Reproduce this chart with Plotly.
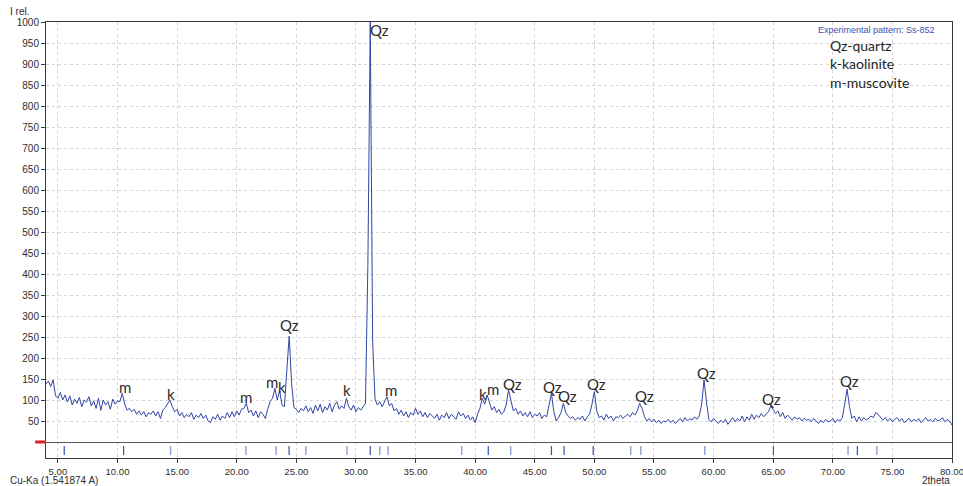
import plotly.graph_objects as go

# Powder XRD pattern, sample Ss-852 (Cu-Ka), sampled every 0.2 deg 2theta from 4.0
START_2THETA = 4.0
STEP_2THETA = 0.2
intensity = [
    138, 145, 132, 148, 110,   # 4
    104, 118, 100, 112, 95,    # 5
    110, 88, 102, 92, 106,     # 6
    84, 100, 95, 108, 86,      # 7
    98, 80, 104, 75, 100,      # 8
    88, 96, 78, 102, 90,       # 9
    98, 96, 116, 90, 76,       # 10
    80, 72, 78, 66, 74,        # 11
    64, 72, 60, 70, 66,        # 12
    74, 62, 72, 56, 76,        # 13
    82, 90, 100, 84, 72,       # 14
    78, 62, 70, 58, 66,        # 15
    60, 70, 54, 64, 58,        # 16
    68, 56, 64, 50, 46,        # 17
    60, 54, 66, 52, 62,        # 18
    56, 70, 58, 72, 60,        # 19
    74, 64, 78, 80, 92,        # 20
    70, 76, 62, 74, 58,        # 21
    72, 66, 56, 78, 96,        # 22
    104, 128, 100, 122, 88,    # 23
    84, 170, 252, 140, 82,     # 24
    78, 70, 80, 74, 86,        # 25
    72, 82, 68, 88, 74,        # 26
    90, 70, 84, 76, 92,        # 27
    72, 88, 96, 78, 86,        # 28
    80, 104, 84, 76, 88,       # 29
    72, 82, 76, 84, 92,        # 30
    420, 1000, 240, 102, 88,   # 31
    96, 84, 98, 108, 86,       # 32
    92, 74, 80, 66, 76,        # 33
    62, 72, 58, 70, 64,        # 34
    80, 66, 74, 60, 70,        # 35
    58, 68, 62, 56, 66,        # 36
    52, 64, 58, 70, 56,        # 37
    66, 60, 54, 72, 62,        # 38
    68, 56, 64, 52, 60,        # 39
    46, 66, 80, 104, 90,       # 40
    112, 92, 76, 84, 70,       # 41
    78, 66, 72, 88, 124,       # 42
    100, 74, 80, 66, 74,       # 43
    62, 70, 60, 72, 58,        # 44
    66, 62, 70, 56, 64,        # 45
    60, 88, 116, 72, 50,       # 46
    58, 70, 92, 70, 62,        # 47
    56, 60, 52, 58, 54,        # 48
    62, 50, 60, 66, 90,        # 49
    120, 74, 58, 62, 52,       # 50
    66, 56, 62, 50, 60,        # 51
    58, 64, 56, 62, 66,        # 52
    60, 70, 64, 74, 92,        # 53
    80, 60, 50, 56, 48,        # 54
    54, 46, 52, 44, 50,        # 55
    48, 54, 46, 52, 44,        # 56
    50, 56, 48, 58, 50,        # 57
    56, 52, 60, 54, 62,        # 58
    90, 148, 96, 54, 48,       # 59
    56, 50, 44, 52, 46,        # 60
    54, 42, 50, 58, 48,        # 61
    56, 50, 62, 48, 60,        # 62
    52, 66, 54, 64, 58,        # 63
    68, 60, 66, 72, 86,        # 64
    78, 68, 74, 60, 70,        # 65
    56, 64, 58, 52, 60,        # 66
    54, 58, 50, 56, 52,        # 67
    54, 48, 56, 50, 44,        # 68
    52, 46, 54, 48, 50,        # 69
    56, 46, 54, 50, 58,        # 70
    90, 126, 84, 56, 62,       # 71
    48, 60, 50, 58, 52,        # 72
    56, 62, 58, 70, 66,        # 73
    60, 52, 58, 50, 56,        # 74
    48, 54, 58, 50, 56,        # 75
    46, 52, 56, 48, 54,        # 76
    50, 56, 46, 52, 58,        # 77
    50, 54, 48, 56, 50,        # 78
    52, 58, 48, 54, 50,        # 79
    40,                        # 80
]
two_theta = [round(START_2THETA + STEP_2THETA * i, 2) for i in range(len(intensity))]

# Reference line positions (2theta) shown in the strip under the pattern
ref_lines_strong = [5.53, 10.51, 24.39, 31.2, 41.1, 46.4, 47.46, 49.9, 65.02, 72.06]
ref_lines_weak = [14.45, 20.77, 23.3, 25.8, 29.25, 32.0, 32.7, 38.87, 42.98,
                  53.05, 53.9, 59.26, 71.28, 73.7]

# Phase labels: text, 2theta position, intensity position
label_text = ["m", "k", "m", "m", "k", "Qz", "k", "Qz", "m", "k", "m", "Qz",
              "Qz", "Qz", "Qz", "Qz", "Qz", "Qz", "Qz"]
label_x = [10.63, 14.49, 20.78, 22.95, 23.78, 24.39, 29.25, 32.0, 32.94, 40.66,
           41.5, 43.1, 46.5, 47.75, 50.2, 54.17, 59.37, 64.9, 71.36]
label_y = [131, 114, 107, 143, 131, 279, 124, 981, 124, 114,
           126, 138, 131, 110, 138, 110, 164, 102, 145]

legend_lines = ["Qz-quartz", "k-kaolinite", "m-muscovite"]

x_ticks = [5, 10, 15, 20, 25, 30, 35, 40, 45, 50, 55, 60, 65, 70, 75, 80]
y_ticks = list(range(50, 1001, 50))

STRIP_TOP, STRIP_BOTTOM = -9.5, -31.0


def strip_segments(positions):
    xs, ys = [], []
    for p in positions:
        xs += [p, p, None]
        ys += [STRIP_TOP, STRIP_BOTTOM, None]
    return xs, ys


fig = go.Figure()

fig.add_trace(go.Scatter(
    x=two_theta, y=intensity, mode="lines",
    line=dict(color="#3245a6", width=1), hoverinfo="skip", showlegend=False,
))

sx, sy = strip_segments(ref_lines_strong)
fig.add_trace(go.Scatter(x=sx, y=sy, mode="lines",
                         line=dict(color="#3a4fae", width=1.2),
                         hoverinfo="skip", showlegend=False))
sx, sy = strip_segments(ref_lines_weak)
fig.add_trace(go.Scatter(x=sx, y=sy, mode="lines",
                         line=dict(color="#8e9dd8", width=1.4),
                         hoverinfo="skip", showlegend=False))

label_font = dict(family="Lato, Open Sans, sans-serif", size=15, color="#2b2b2b")
for t, lx, ly in zip(label_text, label_x, label_y):
    fig.add_annotation(x=lx, y=ly, text=t, showarrow=False,
                       xanchor="center", yanchor="middle", font=label_font)

legend_y = [0.947, 0.904, 0.862]
for t, ly in zip(legend_lines, legend_y):
    fig.add_annotation(xref="paper", yref="paper", x=0.863, y=ly, text=t,
                       showarrow=False, xanchor="left", yanchor="middle",
                       font=dict(family="Lato, Open Sans, sans-serif", size=14,
                                 color="#1e1e1e"))

fig.add_annotation(xref="paper", yref="paper", x=0.9834, y=0.982,
                   text="Experimental pattern: Ss-852", showarrow=False,
                   xanchor="right", yanchor="middle",
                   font=dict(family="Arial, Liberation Sans", size=9, color="#3c4fb4"))

axis_font = dict(family="Arial, Liberation Sans", size=10, color="#2e2e2e")
fig.add_annotation(xref="paper", yref="paper", x=-0.042, y=1.023, text="I rel.",
                   showarrow=False, xanchor="left", yanchor="middle", font=axis_font)
fig.add_annotation(xref="paper", yref="paper", x=-0.042, y=-0.051,
                   text="Cu-Ka (1.541874 A)", showarrow=False,
                   xanchor="left", yanchor="middle", font=axis_font)
fig.add_annotation(xref="paper", yref="paper", x=1.0, y=-0.051, text="2theta",
                   showarrow=False, xanchor="right", yanchor="middle", font=axis_font)

# red marker at the zero level, left of the axis
fig.add_shape(type="line", xref="paper", yref="y", x0=-0.012, x1=0.0, y0=0, y1=0,
              line=dict(color="#e02020", width=3))

fig.update_xaxes(
    range=[4, 80], tickvals=x_ticks, ticktext=[f"{v:.2f}" for v in x_ticks],
    showgrid=True, gridcolor="#d4d4d4", griddash="dot", gridwidth=1,
    showline=True, linecolor="#3a3a3a", linewidth=1, mirror=True,
    ticks="outside", ticklen=4, tickcolor="#3a3a3a",
    tickfont=dict(family="Arial, Liberation Sans", size=9.6, color="#2e2e2e"),
    zeroline=False, ticklabeloverflow="allow", automargin=False,
)
fig.update_yaxes(
    range=[-38.1, 1000], tickvals=y_ticks, ticktext=[str(v) for v in y_ticks],
    showgrid=True, gridcolor="#d4d4d4", griddash="dot", gridwidth=1,
    showline=True, linecolor="#3a3a3a", linewidth=1, mirror=True,
    ticks="outside", ticklen=4, tickcolor="#3a3a3a",
    tickfont=axis_font, zeroline=True, zerolinecolor="#555555", zerolinewidth=1,
    automargin=False,
)

fig.update_layout(
    width=963, height=486,
    margin=dict(l=46, r=11, t=22, b=28),
    plot_bgcolor="white", paper_bgcolor="white",
    showlegend=False,
)

fig.write_html("out.html")
